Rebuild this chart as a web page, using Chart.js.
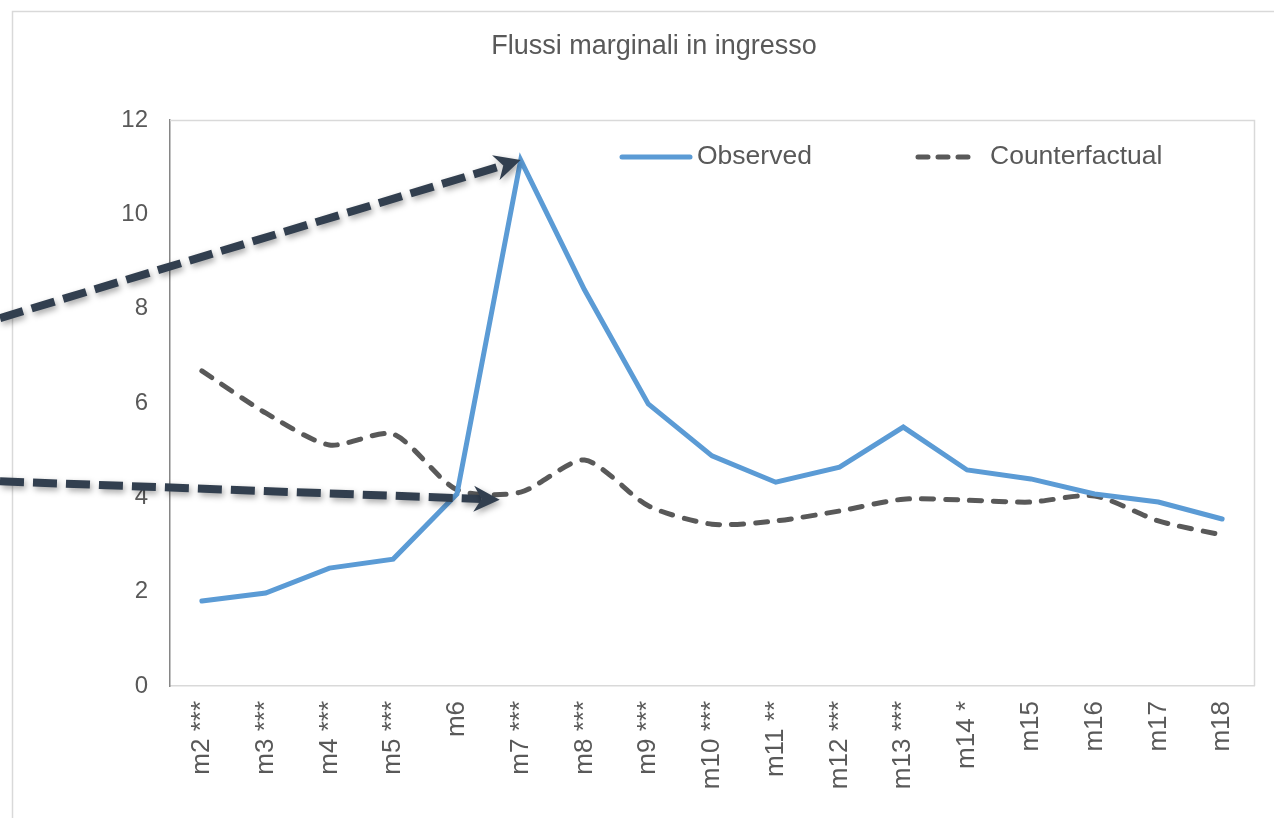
<!DOCTYPE html>
<html>
<head>
<meta charset="utf-8">
<script src="https://cdn.jsdelivr.net/npm/chart.js@4"></script>
<style>
html, body { margin: 0; padding: 0; background: #fff; }
</style>
</head>
<body>
<canvas id="chart" width="1274" height="818"></canvas>
<script>
const labels = ['m2 ***', 'm3 ***', 'm4 ***', 'm5 ***', 'm6', 'm7 ***', 'm8 ***', 'm9 ***',
  'm10 ***', 'm11 **', 'm12 ***', 'm13 ***', 'm14 *', 'm15', 'm16', 'm17', 'm18'];
const observed = [1.80, 1.97, 2.50, 2.69, 4.07, 11.15, 8.40, 5.98, 4.88, 4.32, 4.64, 5.49, 4.58, 4.39, 4.07, 3.90, 3.54];
const counterfactual = [6.68, 5.79, 5.11, 5.34, 4.16, 4.11, 4.79, 3.82, 3.43, 3.50, 3.71, 3.96, 3.94, 3.90, 4.03, 3.50, 3.20];
const yTicks = [0, 2, 4, 6, 8, 10, 12];
const title = 'Flussi marginali in ingresso';

const FONT = '"Liberation Sans", Arial, sans-serif';
const TEXT = '#595959';

function drawArrow(ctx, x0, y0, x1, y1) {
    const ang = Math.atan2(y1 - y0, x1 - x0);
    const head = 26;
    const bx = x1 - Math.cos(ang) * head * 0.7;
    const by = y1 - Math.sin(ang) * head * 0.7;
    ctx.save();
    ctx.shadowColor = 'rgba(0,0,0,0.35)';
    ctx.shadowBlur = 6;
    ctx.shadowOffsetX = 2;
    ctx.shadowOffsetY = 3;
    ctx.strokeStyle = '#323F4F';
    ctx.fillStyle = '#323F4F';
    ctx.lineWidth = 8;
    ctx.setLineDash([24, 9]);
    ctx.beginPath();
    ctx.moveTo(x0, y0);
    ctx.lineTo(bx, by);
    ctx.stroke();
    ctx.setLineDash([]);
    ctx.translate(x1, y1);
    ctx.rotate(ang);
    ctx.beginPath();
    ctx.moveTo(0, 0);
    ctx.lineTo(-head, -head * 0.5);
    ctx.lineTo(-head * 0.7, 0);
    ctx.lineTo(-head, head * 0.5);
    ctx.closePath();
    ctx.fill();
    ctx.restore();
}

const decorations = {
    id: 'decorations',
    beforeDraw(chart) {
        const ctx = chart.ctx;
        ctx.save();
        ctx.fillStyle = '#fff';
        ctx.fillRect(0, 0, chart.width, chart.height);
        ctx.strokeStyle = '#D9D9D9';
        ctx.lineWidth = 1.5;
        ctx.strokeRect(12.5, 11.5, chart.width + 20, chart.height + 20);
        // title
        ctx.font = '27px ' + FONT;
        ctx.fillStyle = TEXT;
        ctx.textAlign = 'center';
        ctx.textBaseline = 'middle';
        ctx.fillText(title, 654, 47);
        ctx.restore();
    },
    beforeDatasetsDraw(chart) {
        const {ctx, chartArea: a} = chart;
        ctx.save();
        ctx.strokeStyle = '#D9D9D9';
        ctx.lineWidth = 1.5;
        ctx.beginPath();
        ctx.moveTo(a.left, a.top + 0.5);
        ctx.lineTo(a.right + 0.5, a.top + 0.5);
        ctx.lineTo(a.right + 0.5, a.bottom);
        ctx.stroke();
        ctx.restore();
    },
    afterDraw(chart) {
        const {ctx, chartArea: a} = chart;
        const xs = chart.scales.x, ys = chart.scales.y;
        const ds = chart.data.datasets;

        // legend inside the plot
        const ly = a.top + 37;
        ctx.save();
        ctx.font = '26.5px ' + FONT;
        ctx.fillStyle = TEXT;
        ctx.textBaseline = 'middle';
        ctx.lineCap = 'round';
        ctx.lineWidth = 5;
        ctx.strokeStyle = ds[0].borderColor;
        ctx.beginPath();
        ctx.moveTo(a.left + 452, ly);
        ctx.lineTo(a.left + 520, ly);
        ctx.stroke();
        ctx.fillText(ds[0].label, a.left + 527, ly);
        ctx.strokeStyle = ds[1].borderColor;
        ctx.setLineDash([10, 10]);
        ctx.beginPath();
        ctx.moveTo(a.left + 748, ly);
        ctx.lineTo(a.left + 805, ly);
        ctx.stroke();
        ctx.setLineDash([]);
        ctx.fillText(ds[1].label, a.left + 820, ly);
        ctx.restore();

        // annotation arrows pointing at m7
        const x7 = xs.getPixelForValue(5);
        drawArrow(ctx, 0, ys.getPixelForValue(7.8), x7, ys.getPixelForValue(observed[5]));
        drawArrow(ctx, 0, ys.getPixelForValue(4.34), x7 - 21, ys.getPixelForValue(3.95));
    }
};

new Chart(document.getElementById('chart'), {
    type: 'line',
    data: {
        labels,
        datasets: [
            {
                label: 'Observed',
                data: observed,
                borderColor: '#5B9BD5',
                borderWidth: 5,
                pointRadius: 0,
                tension: 0,
                borderCapStyle: 'round'
            },
            {
                label: 'Counterfactual',
                data: counterfactual,
                borderColor: '#595959',
                borderWidth: 5,
                borderDash: [12, 12],
                borderCapStyle: 'round',
                pointRadius: 0,
                tension: 0.25
            }
        ]
    },
    options: {
        responsive: false,
        animation: false,
        layout: {padding: {left: 0, right: 20, top: 120, bottom: 0}},
        plugins: {
            legend: {display: false},
            tooltip: {enabled: false},
            title: {display: false}
        },
        scales: {
            x: {
                offset: true,
                grid: {display: false, drawTicks: false},
                border: {display: true, color: '#D9D9D9', width: 1.5},
                ticks: {
                    color: TEXT,
                    font: {family: FONT, size: 26},
                    minRotation: 90,
                    maxRotation: 90,
                    autoSkip: false,
                    padding: 15
                },
                afterFit(scale) { scale.height = 132; }
            },
            y: {
                min: 0,
                max: 12,
                grid: {display: false, drawTicks: false},
                border: {display: true, color: '#868686', width: 1.5},
                ticks: {
                    color: TEXT,
                    font: {family: FONT, size: 24},
                    padding: 22
                },
                afterBuildTicks(scale) { scale.ticks = yTicks.map(v => ({value: v})); },
                afterFit(scale) { scale.width = 170; }
            }
        }
    },
    plugins: [decorations]
});
</script>
</body>
</html>
